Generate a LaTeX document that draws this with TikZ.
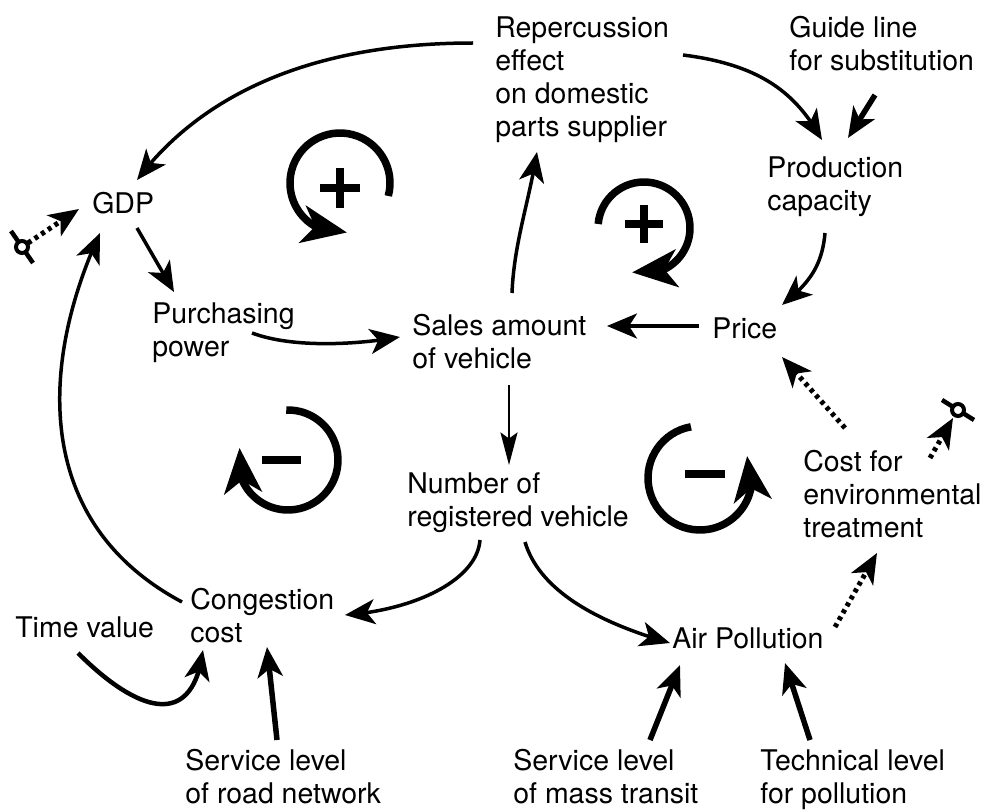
\documentclass[tikz,border=0pt]{standalone}
\usepackage{fontspec}
\setmainfont{TeX Gyre Heros}
\usetikzlibrary{arrows.meta,bending}
\begin{document}
\begin{tikzpicture}[x=0.02cm,y=-0.02cm,
  every node/.style={inner sep=0pt,anchor=north west,align=left,font=\fontsize{16.2}{18.8}\selectfont},
  cause/.style={line width=0.07cm,-{Stealth[length=0.6cm,width=0.5cm,inset=0.16cm]}},
  heavy/.style={cause,line width=0.11cm},
  thin cause/.style={line width=0.05cm,-{Stealth[length=0.65cm,width=0.34cm,inset=0.12cm]}},
  policy/.style={cause,line width=0.1cm,dash pattern=on 0.08cm off 0.08cm},
  feedback/.style={line width=0.15cm,-{Stealth[length=0.9cm,width=0.75cm,inset=0.25cm]}},
  sign/.style={line width=0.17cm}]
\useasboundingbox (0,0) rectangle (991,811);
% variables
\node (rep) at (495,16) {Repercussion\\effect\\on domestic\\parts supplier};
\node (guide) at (789,16) {Guide line\\for substitution};
\node (prod) at (767,156) {Production\\capacity};
\node (gdp) at (92,192) {GDP};
\node (purch) at (152,302) {Purchasing\\power};
\node (sales) at (412,314) {Sales amount\\of vehicle};
\node (price) at (712,317) {Price};
\node (env) at (803,450) {Cost for\\environmental\\treatment};
\node (num) at (407,472) {Number of\\registered vehicle};
\node (cong) at (190,588) {Congestion\\cost};
\node (time) at (15,616) {Time value};
\node (air) at (672,627) {Air Pollution};
\node (road) at (185,749) {Service level\\of road network};
\node (mass) at (513,749) {Service level\\of mass transit};
\node (tech) at (760,749) {Technical level\\for pollution};
% policy valves
\coordinate (valveA) at (22,247);
\coordinate (valveB) at (958,410);
\draw[line width=0.09cm] ([shift={(-11,-16)}]valveA) -- ([shift={(11,16)}]valveA);
\draw[line width=0.08cm,fill=white] (valveA) circle (0.12cm);
\draw[line width=0.09cm] ([shift={(-16,-10)}]valveB) -- ([shift={(16,10)}]valveB);
\draw[line width=0.08cm,fill=white] (valveB) circle (0.12cm);
% causal links
\draw[cause] ([shift={(-22,27)}]rep.north west) .. controls +(-170,0) and +(60,-80) .. ([shift={(45,-12)}]gdp.north west);
\draw[cause] ([shift={(188,39)}]rep.north west) .. controls +(80,10) and +(-25,-45) .. ([shift={(55,-16)}]prod.north west);
\draw[heavy] ([shift={(86,79)}]guide.north west) -- ([shift={(81,-18)}]prod.north west);
\draw[cause] ([shift={(58,77)}]prod.north west) .. controls +(-3,35) and +(25,-20) .. ([shift={(70,-12)}]price.north west);
\draw[cause] ([shift={(-13,9)}]price.north west) -- ([shift={(195,12)}]sales.north west);
\draw[cause] ([shift={(100,31)}]purch.north west) .. controls +(40,15) and +(-45,8) .. ([shift={(-12,23)}]sales.north west);
\draw[cause] ([shift={(100,-21)}]sales.north west) .. controls +(2,-50) and +(-8,50) .. ([shift={(42,136)}]rep.north west);
\draw[thin cause] ([shift={(97,71)}]sales.north west) -- ([shift={(102,-7)}]num.north west);
\draw[cause] ([shift={(45,36)}]gdp.north west) -- ([shift={(22,-10)}]purch.north west);
\draw[cause] ([shift={(-8,14)}]cong.north west) .. controls +(-150,-80) and +(-60,130) .. ([shift={(8,41)}]gdp.north west);
\draw[cause,line width=0.09cm] ([shift={(63,37)}]time.north west) .. controls +(60,60) and +(-10,80) .. ([shift={(13,62)}]cong.north west);
\draw[heavy] ([shift={(92,-9)}]road.north west) -- ([shift={(77,59)}]cong.north west);
\draw[cause] ([shift={(73,68)}]num.north west) .. controls +(-3,40) and +(70,-5) .. ([shift={(155,27)}]cong.north west);
\draw[cause] ([shift={(118,70)}]num.north west) .. controls +(15,50) and +(-70,-20) .. ([shift={(-2,16)}]air.north west);
\draw[heavy] ([shift={(137,-9)}]mass.north west) -- ([shift={(8,38)}]air.north west);
\draw[heavy] ([shift={(50,-9)}]tech.north west) -- ([shift={(113,36)}]air.north west);
\draw[policy] ([shift={(163,0)}]air.north west) -- ([shift={(74,103)}]env.north west);
\draw[policy] ([shift={(42,-22)}]env.north west) -- ([shift={(70,40)}]price.north west);
\draw[policy] ([shift={(6,-4)}]valveA) -- ([shift={(-13,17)}]gdp.north west);
\draw[policy] ([shift={(127,8)}]env.north west) -- ([shift={(-5,8)}]valveB);
% loops
\coordinate (loopA) at (340,183);
\coordinate (loopB) at (644,228);
\coordinate (loopC) at (288,460);
\coordinate (loopD) at (700,478);
\draw[feedback] ([shift={(-15:1cm)}]loopA) arc[start angle=-15,end angle=278,radius=1cm];
\draw[feedback] ([shift={(175:0.92cm)}]loopB) arc[start angle=175,end angle=-105,radius=0.92cm];
\draw[feedback] ([shift={(92:1cm)}]loopC) arc[start angle=92,end angle=-194,radius=1cm];
\draw[feedback] ([shift={(100:1.04cm)}]loopD) arc[start angle=100,end angle=385,radius=1.04cm];
\draw[sign] (320,188) -- (360,188) (340,168) -- (340,208);
\draw[sign] (625,224) -- (663,224) (644,205) -- (644,243);
\draw[sign] (262,460) -- (301,460);
\draw[sign] (685,474) -- (725,474);
\end{tikzpicture}
\end{document}
